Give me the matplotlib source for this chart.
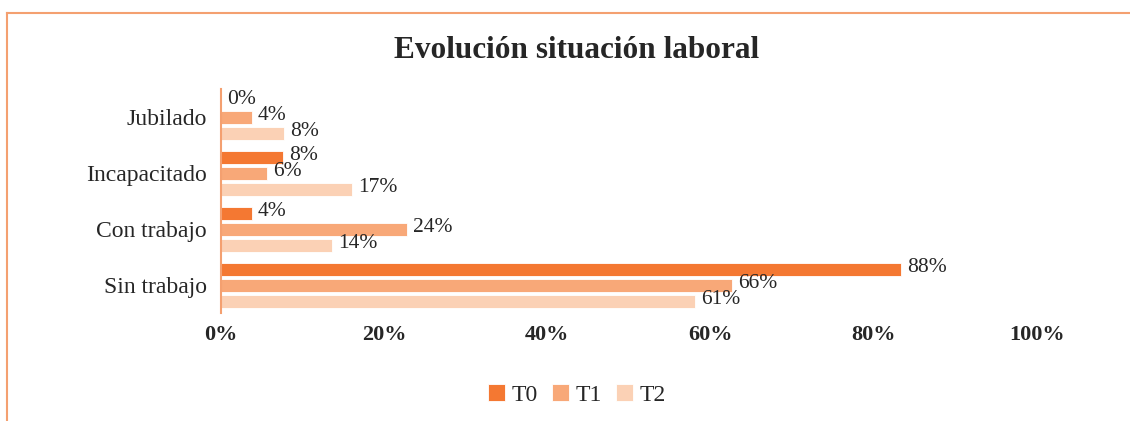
import matplotlib
matplotlib.use("Agg")
import matplotlib.pyplot as plt
from matplotlib.lines import Line2D
import numpy as np

plt.rcParams['font.family'] = ['Liberation Serif', 'DejaVu Serif']

categories = ["Sin trabajo", "Con trabajo", "Incapacitado", "Jubilado"]
series = ["T0", "T1", "T2"]
# bar lengths as drawn (percent of axis)
t0_vals = [83.3, 3.8, 7.6, 0.0]
t1_vals = [62.6, 22.8, 5.6, 3.8]
t2_vals = [58.1, 13.6, 16.1, 7.7]
# data label texts as printed
t0_labels = ["88%", "4%", "8%", "0%"]
t1_labels = ["66%", "24%", "6%", "4%"]
t2_labels = ["61%", "14%", "17%", "8%"]
tick_values = [0, 20, 40, 60, 80, 100]
tick_labels = ["0%", "20%", "40%", "60%", "80%", "100%"]

colors = ["#F47832", "#F8A878", "#FBD1B5"]
frame_color = "#F4A070"
text_color = "#262626"

W, H = 1130, 421
fig = plt.figure(figsize=(W / 100, H / 100), dpi=100)
ax = fig.add_axes([221 / W, 1 - 313 / H, 816 / W, 224 / H])

y = np.arange(len(categories))
offsets = [16 / 56, 0.0, -16 / 56]
bar_h = 13 / 56
all_vals = [t0_vals, t1_vals, t2_vals]
all_labels = [t0_labels, t1_labels, t2_labels]
for vals, labs, off, col, name in zip(all_vals, all_labels, offsets, colors, series):
    bars = ax.barh(y + off, vals, height=bar_h, color=col, label=name,
                   edgecolor="white", linewidth=0.6)
    for b, lab in zip(bars, labs):
        ax.annotate(lab, (b.get_width(), b.get_y() + b.get_height() / 2),
                    xytext=(6, 1), textcoords="offset pixels",
                    ha="left", va="center", fontsize=15.5, color=text_color)

ax.set_xlim(0, 100)
ax.set_ylim(-0.5, len(categories) - 0.5)
ax.set_yticks(y)
ax.set_yticklabels(categories, fontsize=17, color=text_color)
ax.set_xticks(tick_values)
ax.set_xticklabels(tick_labels, fontsize=16, fontweight="bold", color=text_color)
ax.tick_params(axis="both", length=0)
ax.tick_params(axis="x", pad=9)
ax.tick_params(axis="y", pad=10)
for s in ["top", "right", "bottom"]:
    ax.spines[s].set_visible(False)
ax.spines["left"].set_color(frame_color)
ax.spines["left"].set_linewidth(1.5)

fig.text(577 / W, 1 - 50 / H, "Evolución situación laboral", ha="center", va="center",
         fontsize=22.5, fontweight="bold", color=text_color)

leg = fig.legend(loc="center", bbox_to_anchor=(577 / W, 1 - 395 / H), ncol=3,
                 frameon=False, fontsize=17, handlelength=0.7, handleheight=0.7,
                 handletextpad=0.3, columnspacing=0.6)
for t in leg.get_texts():
    t.set_color(text_color)

# outer frame lines (top and left)
fig.add_artist(Line2D([7 / W, 1.0], [1 - 13 / H, 1 - 13 / H], color=frame_color,
                      linewidth=1.5, transform=fig.transFigure))
fig.add_artist(Line2D([7 / W, 7 / W], [1 - 13 / H, 0.0], color=frame_color,
                      linewidth=1.5, transform=fig.transFigure))

fig.savefig("out.png", dpi=100)
